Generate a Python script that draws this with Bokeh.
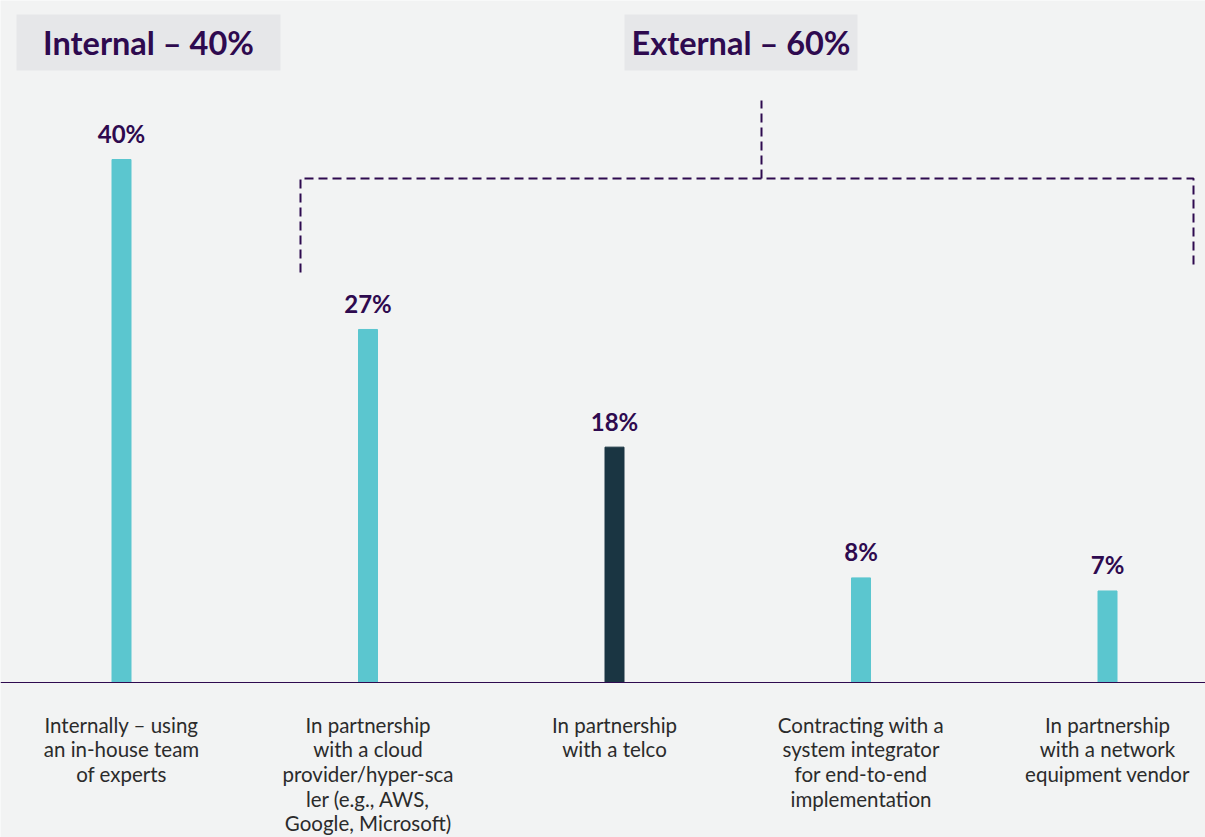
from bokeh.plotting import figure
from bokeh.models import Range1d, ColumnDataSource, Span
from bokeh.core.properties import value
from bokeh.embed import file_html
from bokeh.resources import INLINE

# ---- data ----
categories = [
    "Internally – using\nan in-house team\nof experts",
    "In partnership\nwith a cloud\nprovider/hyper-sca\nler (e.g., AWS,\nGoogle, Microsoft)",
    "In partnership\nwith a telco",
    "Contracting with a\nsystem integrator\nfor end-to-end\nimplementation",
    "In partnership\nwith a network\nequipment vendor",
]
values = [40, 27, 18, 8, 7]
value_labels = ["40%", "27%", "18%", "8%", "7%"]
bar_colors = ["#5bc6cf", "#5bc6cf", "#1a3542", "#5bc6cf", "#5bc6cf"]
group_titles = ["Internal – 40%", "External – 60%"]

# ---- layout ----
W, H = 1205, 837
X0_PX, X_STEP = 121.0, 246.5      # pixel centre of first bar, spacing
BASE_PX, Y_SCALE = 682.0, 13.075  # pixel of baseline, px per %

def px2x(px):
    return (px - X0_PX) / X_STEP

def py2y(py):
    return (BASE_PX - py) / Y_SCALE

BG = "#f2f3f3"
PURPLE = "#2e0a4f"
BOX = "#e6e7e9"

p = figure(width=W, height=H, output_backend="svg", toolbar_location=None,
           x_range=Range1d(px2x(0), px2x(W)), y_range=Range1d(py2y(H), py2y(0)),
           min_border=0, outline_line_color=None)
p.axis.visible = False
p.grid.visible = False
p.background_fill_color = BG
p.border_fill_color = BG

xs = list(range(len(values)))
src = ColumnDataSource(dict(x=xs, top=values, color=bar_colors, lab=value_labels, cat=categories))

p.vbar(x="x", top="top", bottom=0, width=19 / X_STEP, color="color", source=src)

p.add_layout(Span(location=0, dimension="width", line_color=PURPLE, line_width=1.2))

p.text(x="x", y="top", text="lab", source=src, text_align="center", text_baseline="middle",
       y_offset=-26, text_font=value("Lato"), text_font_style="bold", text_font_size="24px",
       text_color=PURPLE)

p.text(x="x", y=py2y(712), text="cat", source=src, text_align="center", text_baseline="top",
       text_font=value("Lato"), text_font_size="20.5px", text_line_height=1.03, text_color="#2b2b2b")

# header boxes
box_l = [px2x(16), px2x(624)]
box_r = [px2x(280), px2x(857)]
p.quad(left=box_l, right=box_r, top=py2y(14), bottom=py2y(70), color=BOX, line_color=None)
p.text(x=[(a + b) / 2 for a, b in zip(box_l, box_r)], y=[py2y(42)] * 2, text=group_titles,
       text_align="center", text_baseline="middle", text_font=value("Lato"),
       text_font_style="bold", text_font_size="32.5px", text_color=PURPLE)

# dashed bracket
p.multi_line(xs=[[px2x(300), px2x(300), px2x(1193), px2x(1193)], [px2x(761), px2x(761)]],
             ys=[[py2y(272), py2y(178), py2y(178), py2y(268)], [py2y(178), py2y(100)]],
             line_color=PURPLE, line_width=2, line_dash="9 5")

open("out.html", "w").write(file_html(p, INLINE))
